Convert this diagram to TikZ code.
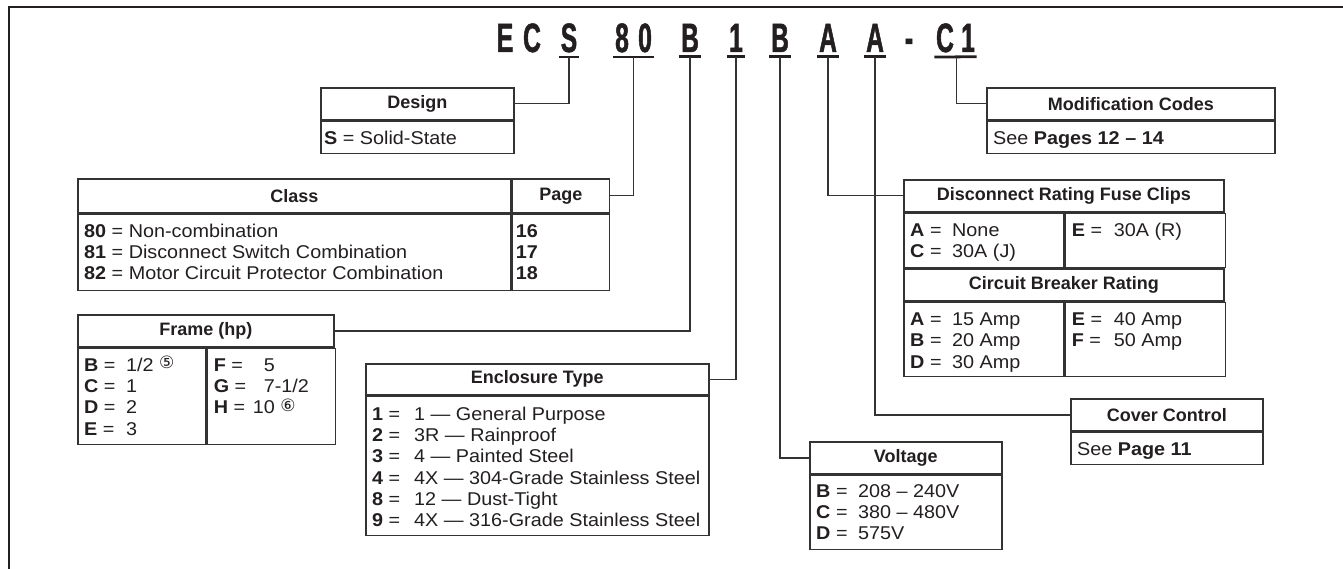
\documentclass[tikz,border=0pt]{standalone}
\usepackage{fontspec}
\setmainfont{Liberation Sans}[FakeStretch=1.07]
\newfontfamily\ttlfont{Liberation Sans}
\newfontfamily\codefont{Liberation Sans}[FakeStretch=0.6,FakeBold=1.2]
\newfontfamily\circfont{DejaVu Sans}
\usetikzlibrary{calc,positioning}
\definecolor{ink}{HTML}{231F20}
\definecolor{rule}{HTML}{333333}
\newcommand\bodysize{\fontsize{18.5}{21.3}\selectfont}
\newcommand\kv[2]{\makebox[42pt][l]{\textbf{#1} =}#2}
\newcommand\kr[3]{\makebox[42pt][l]{\textbf{#1} =}\makebox[19pt][r]{#2}#3}
\newcommand\fn[1]{\raisebox{2.5pt}{\circfont\fontsize{17}{17}\selectfont #1}}
\tikzset{
  ttl/.style={draw=rule,line width=1.6pt,font=\ttlfont\fontsize{18}{21.3}\selectfont\bfseries,minimum height=32pt,anchor=north west,inner sep=0pt},
  cell/.style={draw=rule,line width=1.6pt,anchor=north west,inner sep=0pt},
  txt/.style={anchor=north west,inner xsep=7pt,inner ysep=8.5pt},
  code/.style={font=\codefont\bfseries\fontsize{41}{41}\selectfont,anchor=base,inner xsep=1.5pt,inner ysep=4.5pt},
  uline/.style={line width=2.8pt,draw=ink},
  link/.style={line width=1.4pt,draw=rule},
}
\begin{document}
\begin{tikzpicture}[x=1pt,y=-1pt,font=\bodysize,text=ink]
\useasboundingbox (0,0) rectangle (1343,569);
\draw[line width=2pt,ink] (9,569) -- (9,7) -- (1343,7);

% catalog number
\foreach \x/\ch/\nm in {505/E/cE,532/C/cC,569/S/cS,622/8/c8,645/0/c0,690/B/cB,
  736/1/c1,780/B/cV,828/A/cA,875/A/cK,909/-/cDash,945/C/cM,968/1/cN}
  \node[code] (\nm) at (\x,52) {\ch};
\foreach \a/\b in {cS/cS,c8/c0,cB/cB,c1/c1,cV/cV,cA/cA,cK/cK,cM/cN}
  \draw[uline] (\a.south west) -- (\b.south east);
\coordinate (u80) at ($(c8.south)!.5!(c0.south)$);
\coordinate (uC1) at ($(cM.south)!.5!(cN.south)$);

% Design
\node[ttl,minimum width=193pt] (des-t) at (320,87) {Design};
\node[cell,minimum width=193pt,minimum height=32pt] (des-b) at (des-t.south west) {};
\node[txt,inner xsep=4pt] (des-x) at (des-b.north west) {\begin{tabular}{@{}l@{}}\textbf{S} = Solid-State\end{tabular}};

% Class
\node[ttl,minimum width=433pt,minimum height=34pt] (cls-t) at (77,178) {Class};
\node[ttl,minimum width=97pt,minimum height=34pt] (cls-p) at (cls-t.north east) {Page};
\node[cell,minimum width=433pt,minimum height=76pt] (cls-b) at (cls-t.south west) {};
\node[cell,minimum width=97pt,minimum height=76pt] (cls-q) at (cls-p.south west) {};
\node[txt] (cls-x) at (cls-b.north west) {\begin{tabular}{@{}l@{}}
  \textbf{80} = Non-combination\\
  \textbf{81} = Disconnect Switch Combination\\
  \textbf{82} = Motor Circuit Protector Combination\end{tabular}};
\node[txt,inner xsep=4pt] (cls-y) at (cls-q.north west) {\begin{tabular}{@{}l@{}}
  \textbf{16}\\ \textbf{17}\\ \textbf{18}\end{tabular}};

% Frame
\node[ttl,minimum width=256pt] (frm-t) at (77,314) {Frame (hp)};
\node[cell,minimum width=128pt,minimum height=96pt] (frm-l) at (frm-t.south west) {};
\node[cell,minimum width=128pt,minimum height=96pt] (frm-r) at (frm-l.north east) {};
\node[txt] (frm-x) at (frm-l.north west) {\begin{tabular}{@{}l@{}}
  \kv{B}{1/2 \fn{⑤}}\\ \kv{C}{1}\\ \kv{D}{2}\\ \kv{E}{3}\end{tabular}};
\node[txt] (frm-y) at (frm-r.north west) {\begin{tabular}{@{}l@{}}
  \kr{F}{5}{}\\ \kr{G}{7}{-1/2}\\ \kr{H}{10}{ \fn{⑥}}\end{tabular}};

% Enclosure
\node[ttl,minimum width=343pt,minimum height=31pt] (enc-t) at (365,363) {Enclosure Type};
\node[cell,minimum width=343pt,minimum height=139pt] (enc-b) at (enc-t.south west) {};
\node[txt,inner ysep=9.5pt] (enc-x) at (enc-b.north west) {\begin{tabular}{@{}l@{}}
  \kv{1}{1 --- General Purpose}\\
  \kv{2}{3R --- Rainproof}\\
  \kv{3}{4 --- Painted Steel}\\
  \kv{4}{4X --- 304-Grade Stainless Steel}\\
  \kv{8}{12 --- Dust-Tight}\\
  \kv{9}{4X --- 316-Grade Stainless Steel}\end{tabular}};

% Voltage
\node[ttl,minimum width=192pt] (vol-t) at (809,441) {Voltage};
\node[cell,minimum width=192pt,minimum height=74pt] (vol-b) at (vol-t.south west) {};
\node[txt,inner ysep=7.5pt] (vol-x) at (vol-b.north west) {\begin{tabular}{@{}l@{}}
  \kv{B}{208 -- 240V}\\ \kv{C}{380 -- 480V}\\ \kv{D}{575V}\end{tabular}};

% Disconnect / circuit breaker
\node[ttl,minimum width=320pt] (dis-t) at (903,179) {Disconnect Rating Fuse Clips};
\node[cell,minimum width=160pt,minimum height=54pt] (dis-l) at (dis-t.south west) {};
\node[cell,minimum width=160pt,minimum height=54pt] (dis-r) at (dis-l.north east) {};
\node[txt] (dis-x) at (dis-l.north west) {\begin{tabular}{@{}l@{}}
  \kv{A}{None}\\ \kv{C}{30A (J)}\end{tabular}};
\node[txt] (dis-y) at (dis-r.north west) {\begin{tabular}{@{}l@{}}\kv{E}{30A (R)}\end{tabular}};
\node[ttl,minimum width=320pt] (cbr-t) at (dis-l.south west) {Circuit Breaker Rating};
\node[cell,minimum width=160pt,minimum height=74pt] (cbr-l) at (cbr-t.south west) {};
\node[cell,minimum width=160pt,minimum height=74pt] (cbr-r) at (cbr-l.north east) {};
\node[txt] (cbr-x) at (cbr-l.north west) {\begin{tabular}{@{}l@{}}
  \kv{A}{15 Amp}\\ \kv{B}{20 Amp}\\ \kv{D}{30 Amp}\end{tabular}};
\node[txt] (cbr-y) at (cbr-r.north west) {\begin{tabular}{@{}l@{}}
  \kv{E}{40 Amp}\\ \kv{F}{50 Amp}\end{tabular}};

% Cover control
\node[ttl,minimum width=192pt] (cov-t) at (1070,398) {Cover Control};
\node[cell,minimum width=192pt,minimum height=32pt] (cov-b) at (cov-t.south west) {};
\node[txt] (cov-x) at (cov-b.north west) {\begin{tabular}{@{}l@{}}See \textbf{Page 11}\end{tabular}};

% Modification codes
\node[ttl,minimum width=288pt] (mod-t) at (986,87) {Modification Codes};
\node[cell,minimum width=288pt,minimum height=32pt] (mod-b) at (mod-t.south west) {};
\node[txt] (mod-x) at (mod-b.north west) {\begin{tabular}{@{}l@{}}See \textbf{Pages 12 -- 14}\end{tabular}};

% connectors
\draw[link] (des-t.east) -| (cS.south);
\draw[link] (cls-p.east) -| (u80);
\draw[link] (frm-t.east) -| (cB.south);
\draw[link] (enc-t.east) -| (c1.south);
\draw[link] (cV.south) |- (vol-t.west);
\draw[link] (cA.south) |- (dis-t.west);
\draw[link] (cK.south) |- (cov-t.west);
\draw[link] (uC1) |- (mod-t.west);
\end{tikzpicture}
\end{document}
